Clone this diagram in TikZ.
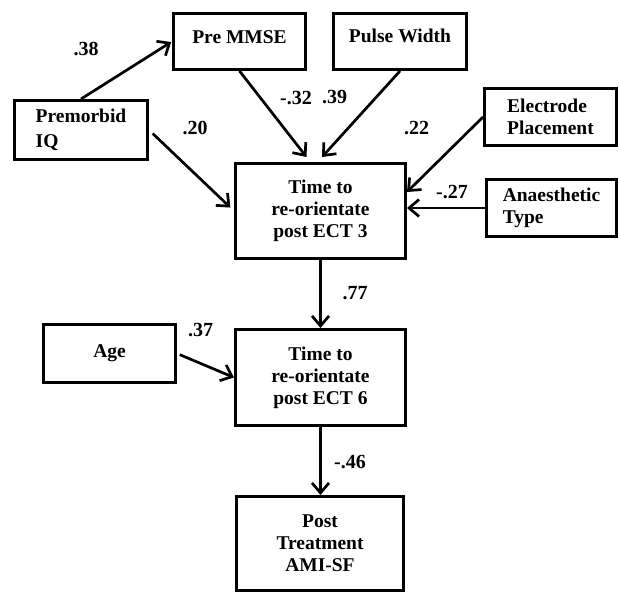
\documentclass[tikz,border=0pt]{standalone}
\usepackage{fontspec}
\setmainfont{Liberation Serif}
\usetikzlibrary{arrows.meta,calc}
\begin{document}
\begin{tikzpicture}[x=1pt,y=-1pt,
  box/.style={draw,line width=3pt,inner sep=0pt,font=\bfseries\fontsize{19.5}{22}\selectfont,align=center},
  lbl/.style={font=\bfseries\fontsize{20}{22}\selectfont,inner sep=0pt},
  arr/.style={line width=2.7pt,-{Straight Barb[length=10pt,width=17pt]}}]
\useasboundingbox (0,0) rectangle (619,593);
% boxes
\node[box,minimum width=132pt,minimum height=56pt,text height=13pt,text depth=9pt] (mmse) at (239.5,41.5) {Pre MMSE};
\node[box,minimum width=133pt,minimum height=56pt,text height=13.3pt,text depth=11pt] (pulse) at (400,41.5) {Pulse Width};
\node[box,align=left,minimum width=133pt,minimum height=59pt] (iq) at (81,130) {Premorbid\\[3pt]IQ};
\node[box,align=left,minimum width=132pt,minimum height=57pt] (elec) at (550.5,117) {Electrode\\Placement};
\node[box,align=left,minimum width=130pt,minimum height=57pt] (anae) at (551.5,208) {Anaesthetic\\Type};
\node[box,minimum width=170pt,minimum height=95pt] (ect3) at (320.5,211) {Time to\\re-orientate\\post ECT 3};
\node[box,minimum width=132pt,minimum height=58pt] (age) at (109.5,353.5) {Age};
\node[box,minimum width=170pt,minimum height=96pt] (ect6) at (320.5,377.5) {Time to\\re-orientate\\post ECT 6};
\node[box,minimum width=167pt,minimum height=94pt] (post) at (320,543.5) {Post\\Treatment\\AMI-SF};
% connectors
\draw[arr,shorten >=1pt] (iq.north) -- (mmse.west);
\draw[arr,shorten <=5pt,shorten >=5pt] (iq.east) -- (ect3.west);
\draw[arr] (mmse.south) -- ($(ect3.north)+(-14,-5)$);
\draw[arr] (pulse.south) -- ($(ect3.north)+(1.5,-5)$);
\draw[arr] (elec.west) -- ($(ect3.east)+(0,-19)$);
\draw[arr] (anae.west) -- (anae.west -| ect3.east);
\draw[arr] (ect3.south) -- (ect3.south |- ect6.north);
\draw[arr,shorten <=3pt] (age.east) -- (ect6.west);
\draw[arr] (ect6.south) -- (ect6.south |- post.north);
% coefficients
\node[lbl] (l38) at (86,49) {.38};
\node[lbl] (l20) at (195,128) {.20};
\node[lbl] (l32) at (296,98) {-.32};
\node[lbl] (l39) at (334.5,97) {.39};
\node[lbl] (l22) at (416.5,128) {.22};
\node[lbl] (l27) at (452,192) {-.27};
\node[lbl] (l77) at (355,293) {.77};
\node[lbl] (l37) at (200.5,330) {.37};
\node[lbl] (l46) at (350,462) {-.46};
\end{tikzpicture}
\end{document}
